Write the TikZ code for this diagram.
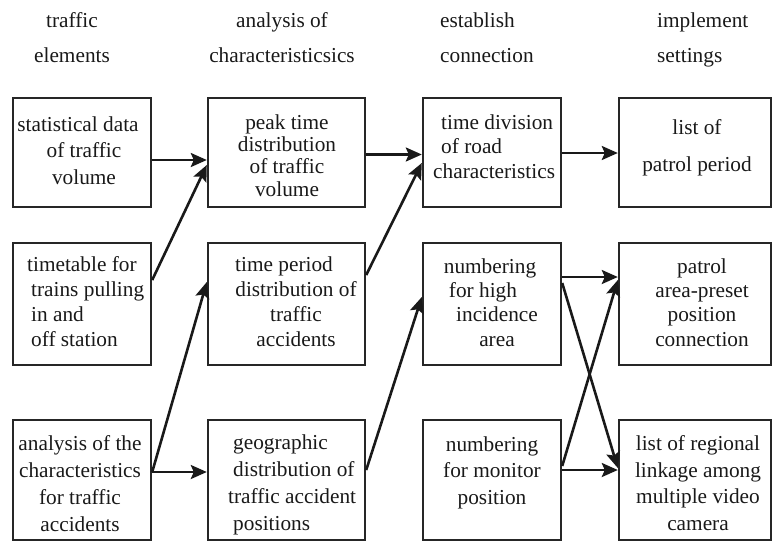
\documentclass[tikz,border=0pt]{standalone}
\usepackage{fontspec}
\setmainfont{Liberation Serif}
\usetikzlibrary{arrows.meta}
\begin{document}
\begin{tikzpicture}[x=1pt,y=-1pt,
  box/.style={draw=black!85, line width=2.4pt, inner sep=0pt},
  cwa/.style={minimum width=138pt}, cwb/.style={minimum width=157pt},
  cwc/.style={minimum width=138pt}, cwd/.style={minimum width=152pt},
  rha/.style={minimum height=109pt}, rhb/.style={minimum height=122pt},
  rhc/.style={minimum height=120pt},
  txt/.style={inner sep=0pt, text=black!90, font=\fontsize{21.3}{#1}\selectfont},
  arr/.style={draw=black!90, line width=2.6pt, -{Stealth[length=16pt,width=14pt,inset=3pt]}}]
\useasboundingbox (0,0) rectangle (773,543);
% headers (anchor = baseline of the last line)
\node[txt=35, align=center, anchor=base] (h1) at (72,63) {traffic\\elements};
\node[txt=35, align=center, anchor=base] (h2) at (282,63) {analysis of\\characteristicsics};
\node[txt=35, align=left, anchor=base west] (h3) at (440,63) {establish\\connection};
\node[txt=35, align=left, anchor=base west] (h4) at (657,63) {implement\\settings};
% boxes
\node[box, cwa, rha] (r1c1) at (82,152.5) {};
\node[box, cwa, rhb] (r2c1) at (82,304) {};
\node[box, cwa, rhc] (r3c1) at (82,480) {};
\node[box, cwb, rha] (r1c2) at (286.5,152.5) {};
\node[box, cwb, rhb] (r2c2) at (286.5,304) {};
\node[box, cwb, rhc] (r3c2) at (286.5,480) {};
\node[box, cwc, rha] (r1c3) at (492,152.5) {};
\node[box, cwc, rhb] (r2c3) at (492,304) {};
\node[box, cwc, rhc] (r3c3) at (492,480) {};
\node[box, cwd, rha] (r1c4) at (695,152.5) {};
\node[box, cwd, rhb] (r2c4) at (695,304) {};
\node[box, cwd, rhc] (r3c4) at (695,480) {};
% texts
\node[txt=26.5, align=center, anchor=base] (t11) at (84,184) {statistical data\kern12pt\\of traffic\\volume};
\node[txt=25, align=left, anchor=base west] (t21) at (31,346) {\kern-4pt timetable for\\trains pulling\\in and\\off station};
\node[txt=27, align=center, anchor=base] (t31) at (80,531) {analysis of the\\characteristics\\for traffic\\accidents};
\node[txt=22.3, align=center, anchor=base] (t12) at (287,196) {peak time\\distribution\\of traffic\\volume};
\node[txt=25, align=center, anchor=base] (t22) at (296,346) {time period\kern24pt\\distribution of\\traffic\\accidents};
\node[txt=26.7, align=left, anchor=base west] (t32) at (233,530) {geographic\\distribution of\\\kern-5pt traffic accident\\positions};
\node[txt=24.5, align=left, anchor=base west] (t13) at (441,178) {time division\\of road\\\kern-8pt characteristics};
\node[txt=24.3, align=center, anchor=base] (t23) at (490,346) {numbering\\for high\kern14pt\\\kern14pt incidence\\\kern14pt area};
\node[txt=26.5, align=center, anchor=base] (t33) at (492,504) {numbering\\for monitor\\position};
\node[txt=37, align=center, anchor=base] (t14) at (697,171) {list of\\patrol period};
\node[txt=24.3, align=center, anchor=base] (t24) at (702,346) {patrol\\area-preset\\position\\connection};
\node[txt=26.7, align=center, anchor=base] (t34) at (698,530.5) {list of regional\\linkage among\\multiple video\\camera};
% arrows
\draw[arr] ([yshift=-7.5pt]r1c1.east) -- ([yshift=-7.5pt]r1c2.west);
\draw[arr] ([yshift=24pt]r2c1.east) -- ([yshift=-12.5pt]r1c2.west);
\draw[arr] ([yshift=8pt]r3c1.east) -- ([yshift=22pt]r2c2.west);
\draw[arr] ([yshift=8pt]r3c1.east) -- ([yshift=8pt]r3c2.west);
\draw[arr] ([yshift=-2pt]r1c2.east) -- ([yshift=-2pt]r1c3.west);
\draw[arr] ([yshift=29pt]r2c2.east) -- ([yshift=-10.5pt]r1c3.west);
\draw[arr] ([yshift=10pt]r3c2.east) -- ([yshift=7pt]r2c3.west);
\draw[arr] ([yshift=-0.5pt]r1c3.east) -- ([yshift=-0.5pt]r1c4.west);
\draw[arr] ([yshift=27pt]r2c3.east) -- ([yshift=27pt]r2c4.west);
\draw[arr] ([yshift=21pt]r2c3.east) -- ([yshift=12pt]r3c4.west);
\draw[arr] ([yshift=10pt]r3c3.east) -- ([yshift=10pt]r3c4.west);
\draw[arr] ([yshift=14pt]r3c3.east) -- ([yshift=24pt]r2c4.west);
\end{tikzpicture}
\end{document}
